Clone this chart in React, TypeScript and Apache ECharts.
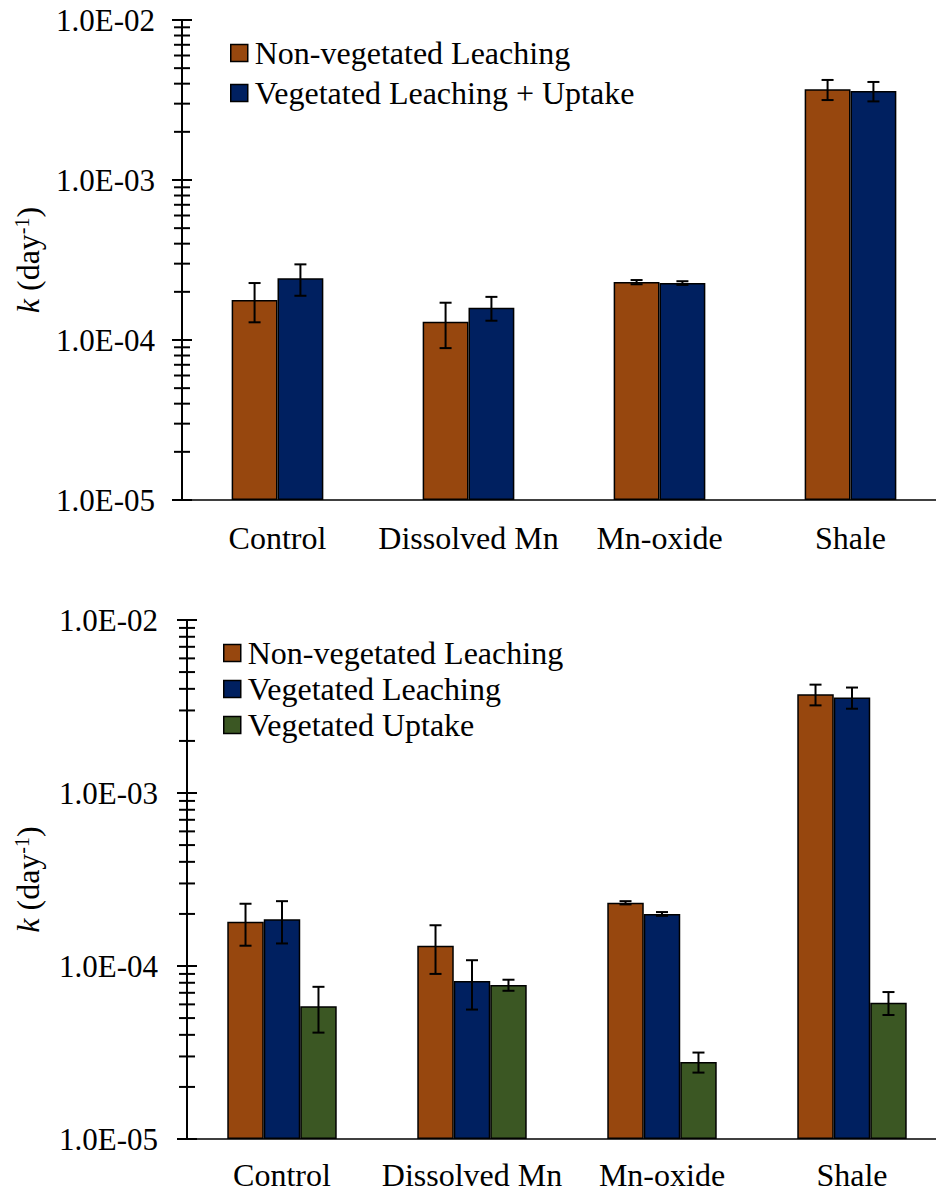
import React, { useEffect, useRef } from 'react';
import * as echarts from 'echarts';

const categories = ['Control', 'Dissolved Mn', 'Mn-oxide', 'Shale'];
const decadeLabels = ['1.0E-05', '1.0E-04', '1.0E-03', '1.0E-02'];

// Upper panel: leaching vs. leaching + uptake
const topNames = ['Non-vegetated Leaching', 'Vegetated Leaching + Uptake'];
const topNonVeg = [1.78e-4, 1.3e-4, 2.3e-4, 3.69e-3];
const topNonVegErr = [4.9e-5, 4.1e-5, 7e-6, 5.3e-4];
const topVegTotal = [2.43e-4, 1.59e-4, 2.27e-4, 3.6e-3];
const topVegTotalErr = [5.4e-5, 2.7e-5, 6e-6, 5.0e-4];

// Lower panel: leaching and uptake shown separately
const bottomNames = ['Non-vegetated Leaching', 'Vegetated Leaching', 'Vegetated Uptake'];
const botNonVeg = [1.8e-4, 1.31e-4, 2.32e-4, 3.72e-3];
const botNonVegErr = [4.9e-5, 4.1e-5, 5e-6, 5.1e-4];
const botVegLeach = [1.86e-4, 8.2e-5, 2.0e-4, 3.57e-3];
const botVegLeachErr = [5.1e-5, 2.6e-5, 5e-6, 5.0e-4];
const botVegUptake = [5.85e-5, 7.76e-5, 2.79e-5, 6.14e-5];
const botVegUptakeErr = [1.73e-5, 5.7e-6, 3.7e-6, 9.3e-6];

const colors = ['#97470E', '#002060', '#3B5723'];
const FONT = 'Liberation Serif';

// log-axis tick positions: 1..9 per decade, plus the top decade
const tickValues: number[] = [];
for (let d = -5; d < -2; d++) {
  for (let m = 1; m < 10; m++) tickValues.push(m * Math.pow(10, d));
}
tickValues.push(1e-2);

function tickSeries(idx: number) {
  return {
    type: 'custom',
    xAxisIndex: idx,
    yAxisIndex: idx,
    silent: true,
    z: 6,
    clip: false,
    data: tickValues.map((v, i) => [0, v, i % 9 === 0 ? 1 : 0]),
    renderItem: (params: any, api: any) => {
      const y = api.coord([0, api.value(1)])[1];
      const x0 = params.coordSys.x;
      const half = api.value(2) ? 10 : 8;
      return {
        type: 'line',
        shape: { x1: x0 - half, y1: y, x2: x0 + half, y2: y },
        style: { stroke: '#000', lineWidth: 2 },
      };
    },
  };
}

function errorSeries(idx: number, values: number[], errs: number[], slot: number, nSlots: number, barFrac: number) {
  return {
    type: 'custom',
    xAxisIndex: idx,
    yAxisIndex: idx,
    silent: true,
    z: 5,
    data: values.map((v, i) => [i, v, errs[i]]),
    renderItem: (params: any, api: any) => {
      const i = api.value(0);
      const v = api.value(1);
      const e = api.value(2);
      const band = params.coordSys.width / categories.length;
      const w = band * barFrac;
      const cx = api.coord([i, v])[0] + (slot - (nSlots - 1) / 2) * w;
      const yHi = api.coord([i, v + e])[1];
      const yLo = api.coord([i, v - e])[1];
      const cap = 6;
      const style = { stroke: '#000', lineWidth: 2 };
      return {
        type: 'group',
        children: [
          { type: 'line', shape: { x1: cx, y1: yHi, x2: cx, y2: yLo }, style },
          { type: 'line', shape: { x1: cx - cap, y1: yHi, x2: cx + cap, y2: yHi }, style },
          { type: 'line', shape: { x1: cx - cap, y1: yLo, x2: cx + cap, y2: yLo }, style },
        ],
      };
    },
  };
}

function barSeries(idx: number, name: string, values: number[], color: string, width: string) {
  return {
    type: 'bar',
    name,
    xAxisIndex: idx,
    yAxisIndex: idx,
    data: values,
    barWidth: width,
    barGap: '0%',
    itemStyle: { color, borderColor: '#000', borderWidth: 1.5 },
  };
}

function xAxis(idx: number, margin: number, lineHeight: number) {
  return {
    type: 'category',
    gridIndex: idx,
    data: categories,
    axisLine: { onZero: false, lineStyle: { color: '#000', width: 1.5 } },
    axisTick: { show: false },
    axisLabel: { interval: 0, margin, color: '#000', fontSize: 32, fontFamily: FONT, lineHeight },
  };
}

function yAxis(idx: number, gap: number, labelMargin: number) {
  return {
    type: 'log',
    logBase: 10,
    gridIndex: idx,
    min: 1e-5,
    max: 1e-2,
    startValue: 1e-5,
    splitLine: { show: false },
    axisTick: { show: false },
    axisLine: { show: true, lineStyle: { color: '#000', width: 2 } },
    axisLabel: {
      margin: labelMargin,
      color: '#000',
      fontSize: 31,
      fontFamily: FONT,
      formatter: (v: number) => decadeLabels[Math.round(Math.log10(v)) + 5],
    },
    name: '{k|k} (day{s|-1})',
    nameLocation: 'middle',
    nameRotate: 90,
    nameGap: gap,
    nameTextStyle: {
      color: '#000',
      fontSize: 32,
      fontFamily: FONT,
      rich: {
        k: { fontStyle: 'italic', fontSize: 32, fontFamily: FONT, color: '#000' },
        s: { fontSize: 20, fontFamily: FONT, color: '#000', verticalAlign: 'top', lineHeight: 32 },
      },
    },
  };
}

function legend(names: string[], left: number, top: number, gap: number) {
  return {
    orient: 'vertical',
    left,
    top,
    padding: 0,
    itemGap: gap,
    itemWidth: 17,
    itemHeight: 17,
    icon: 'rect',
    selectedMode: false,
    data: names,
    itemStyle: { borderColor: '#000', borderWidth: 1.5 },
    textStyle: { color: '#000', fontSize: 32, fontFamily: FONT, padding: [0, 0, 0, 2] },
  };
}

export default function App() {
  const ref = useRef<HTMLDivElement>(null);

  useEffect(() => {
    if (!ref.current) return;
    const chart = echarts.init(ref.current, undefined, { renderer: 'svg' });
    const option: any = {
      animation: false,
      backgroundColor: '#fff',
      textStyle: { fontFamily: FONT },
      grid: [
        { left: 182, top: 20, height: 480, right: -10, outerBoundsMode: 'none', containLabel: false },
        { left: 187, top: 620, height: 519, right: -11, outerBoundsMode: 'none', containLabel: false },
      ],
      legend: [legend(topNames, 230, 37, 8), legend(bottomNames, 223, 637, 4)],
      xAxis: [xAxis(0, 22, 32), xAxis(1, 23, 26)],
      yAxis: [yAxis(0, 138, 27), yAxis(1, 143, 29)],
      series: [
        barSeries(0, topNames[0], topNonVeg, colors[0], '24%'),
        barSeries(0, topNames[1], topVegTotal, colors[1], '24%'),
        barSeries(1, bottomNames[0], botNonVeg, colors[0], '19.2%'),
        barSeries(1, bottomNames[1], botVegLeach, colors[1], '19.2%'),
        barSeries(1, bottomNames[2], botVegUptake, colors[2], '19.2%'),
        errorSeries(0, topNonVeg, topNonVegErr, 0, 2, 0.24),
        errorSeries(0, topVegTotal, topVegTotalErr, 1, 2, 0.24),
        errorSeries(1, botNonVeg, botNonVegErr, 0, 3, 0.192),
        errorSeries(1, botVegLeach, botVegLeachErr, 1, 3, 0.192),
        errorSeries(1, botVegUptake, botVegUptakeErr, 2, 3, 0.192),
        tickSeries(0),
        tickSeries(1),
      ],
    };
    chart.setOption(option);
    return () => chart.dispose();
  }, []);

  return (
    <div
      ref={ref}
      style={{ position: 'absolute', left: 0, top: 0, width: 936, height: 1193, background: '#fff' }}
    />
  );
}
